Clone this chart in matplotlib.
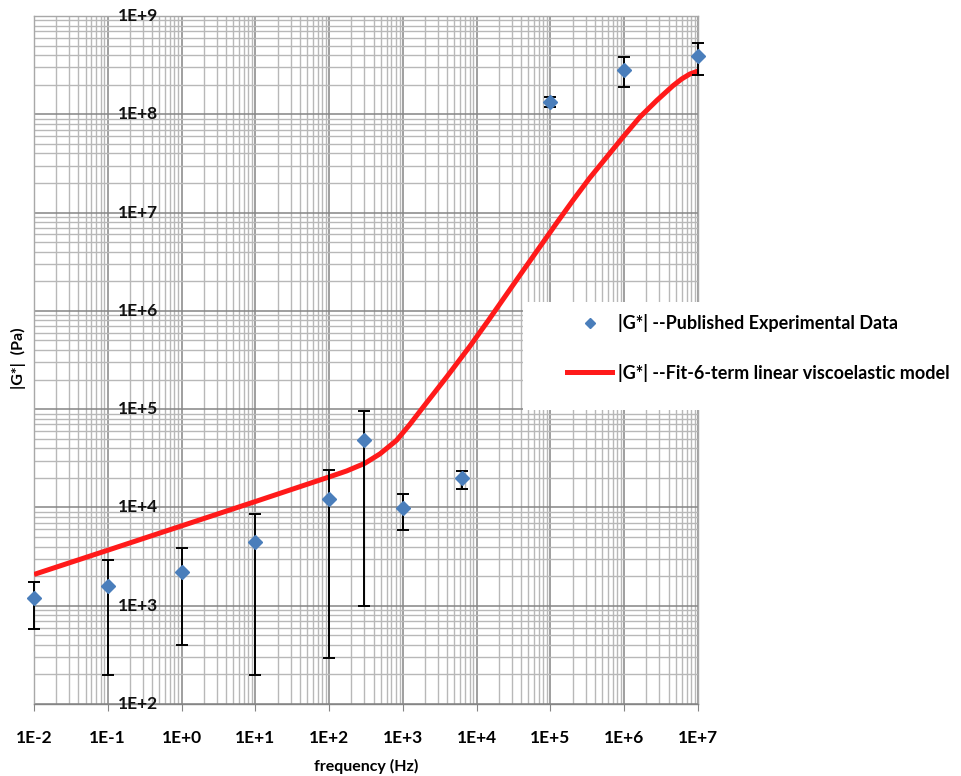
import numpy as np
import matplotlib
matplotlib.use("Agg")
import matplotlib.pyplot as plt
from matplotlib.ticker import LogLocator, NullFormatter, FixedLocator
from matplotlib.patches import Rectangle
from matplotlib.lines import Line2D

# ---------------- data ----------------
exp_freq = [0.01, 0.1, 1, 10, 100, 300, 1000, 6400, 1e5, 1e6, 1e7]
exp_g = [1190, 1580, 2180, 4500, 12300, 49000, 9890, 19700, 1.34e8, 2.84e8, 3.94e8]
exp_g_hi = [1750, 2950, 3850, 8670, 24300, 95500, 13600, 23300, 1.49e8, 3.8e8, 5.3e8]
exp_g_lo = [578, 199, 394, 199, 291, 1000, 5960, 15500, 1.18e8, 1.9e8, 2.51e8]

fit_freq = [0.01, 0.1, 1, 10, 100, 173, 305, 490, 822, 1245, 1884, 3908,
            8091, 14320, 42660, 123000, 200000, 338800, 955000, 1622000,
            2754000, 4571000, 6026000, 7762000, 1e7]
fit_g = [2080, 3670, 6490, 11480, 20420, 23500, 28120, 35100, 48190, 70100,
         104900, 211800, 436500, 794300, 2570000, 7943000, 13180000,
         22390000, 58210000, 93330000, 138000000, 195000000, 229100000,
         257000000, 275400000]

x_ticks = [1e-2, 1e-1, 1e0, 1e1, 1e2, 1e3, 1e4, 1e5, 1e6, 1e7]
x_tick_labels = ["1E-2", "1E-1", "1E+0", "1E+1", "1E+2", "1E+3", "1E+4",
                 "1E+5", "1E+6", "1E+7"]
y_ticks = [1e2, 1e3, 1e4, 1e5, 1e6, 1e7, 1e8, 1e9]
y_tick_labels = ["1E+2", "1E+3", "1E+4", "1E+5", "1E+6", "1E+7", "1E+8", "1E+9"]

label_exp = "|G*| --Published Experimental Data"
label_fit = "|G*| --Fit-6-term linear viscoelastic model"

# ---------------- figure ----------------
FONT = "Lato"
fig = plt.figure(figsize=(9.61, 7.76), dpi=100)
ax = fig.add_axes([34 / 961, 1 - 704 / 776, 664 / 961, 688 / 776])
ax.set_xscale("log")
ax.set_yscale("log")
ax.set_xlim(1e-2, 1e7)
ax.set_ylim(1e2, 1e9)

# grid
ax.xaxis.set_major_locator(FixedLocator(x_ticks))
ax.yaxis.set_major_locator(FixedLocator(y_ticks))
ax.xaxis.set_minor_locator(LogLocator(base=10, subs=np.arange(2, 10), numticks=100))
ax.yaxis.set_minor_locator(LogLocator(base=10, subs=np.arange(2, 10), numticks=100))
ax.xaxis.set_minor_formatter(NullFormatter())
ax.yaxis.set_minor_formatter(NullFormatter())
ax.grid(which="major", color="#858585", linewidth=1.1)
ax.grid(which="minor", color="#b8b8b8", linewidth=1.0)
ax.set_axisbelow(True)
for s in ax.spines.values():
    s.set_color("#a8a8a8")
    s.set_linewidth(1.0)
ax.spines["bottom"].set_color("#858585")

ax.set_xticks(x_ticks)
ax.set_xticklabels(x_tick_labels, fontfamily=FONT, fontweight="bold",
                   fontsize=12.5)
ax.tick_params(axis="x", which="major", direction="out", length=5,
               color="#858585", pad=14)
ax.tick_params(axis="x", which="minor", length=0)
ax.tick_params(axis="y", which="both", length=0, labelleft=False)

# y tick labels drawn inside the plot area
for yv, lab in zip(y_ticks, y_tick_labels):
    ax.text(0.157, yv, lab, transform=ax.get_yaxis_transform(),
            ha="center", va="center", fontfamily=FONT, fontweight="bold",
            fontsize=12.5, color="#111111", zorder=6)

# fit curve
ax.plot(fit_freq, fit_g, color="#ff1a1a", linewidth=3.6,
        solid_capstyle="butt", solid_joinstyle="round", zorder=3)

# experimental data with error bars
yerr = [np.array(exp_g) - np.array(exp_g_lo), np.array(exp_g_hi) - np.array(exp_g)]
eb = ax.errorbar(exp_freq, exp_g, yerr=yerr, fmt="none", ecolor="black",
                 elinewidth=1.4, capsize=4.5, capthick=1.4, zorder=4)
for art in eb.lines[1] + eb.lines[2]:
    art.set_clip_on(False)
ax.plot(exp_freq, exp_g, linestyle="none", marker="D", markersize=7.2,
        color="#4a7ebb", markeredgecolor="#4a7ebb", zorder=5, clip_on=False)

# axis titles
fig.text(366 / 961, 1 - 766 / 776, "frequency (Hz)", ha="center", va="center",
         fontfamily=FONT, fontweight="bold", fontsize=11.5)
fig.text(18 / 961, 1 - 358 / 776, "|G*|  (Pa)", ha="center", va="center",
         rotation=90, fontfamily=FONT, fontweight="bold", fontsize=11.5)

# legend box
fig.patches.append(Rectangle((523 / 961, 1 - 410 / 776), (961 - 523) / 961,
                             108 / 776, transform=fig.transFigure,
                             facecolor="white", edgecolor="none", zorder=2))
handles = [Line2D([], [], linestyle="none", marker="D", markersize=5.5,
                  color="#4a7ebb"),
           Line2D([], [], color="#ff1a1a", linewidth=3.6)]
leg = fig.legend(handles, [label_exp, label_fit], loc="upper left",
                 bbox_to_anchor=(567 / 961, 1 - 314 / 776),
                 bbox_transform=fig.transFigure, frameon=False,
                 borderpad=0, borderaxespad=0, handlelength=2.5,
                 handletextpad=0.33, labelspacing=1.75,
                 prop={"family": FONT, "weight": "bold", "size": 13})
leg.set_zorder(3)

fig.savefig("out.png", dpi=100)
